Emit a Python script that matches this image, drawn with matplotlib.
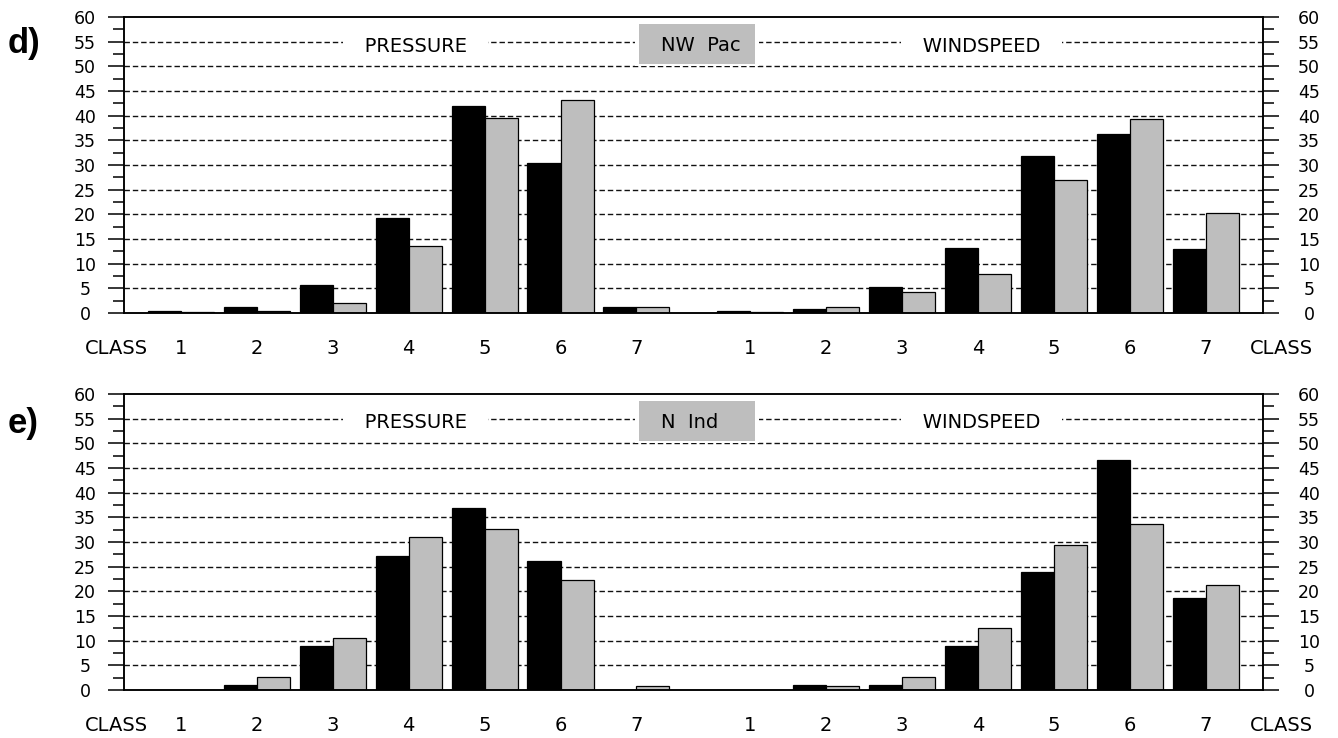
import matplotlib
matplotlib.use("Agg")
import matplotlib.pyplot as plt
import matplotlib.transforms as mtransforms
from matplotlib.patches import Rectangle
import numpy as np

plt.rcParams['font.family'] = ['DejaVu Sans']
plt.rcParams['lines.scale_dashes'] = False

# ---------------- data ----------------
classes = ['1', '2', '3', '4', '5', '6', '7']
y_ticks = list(range(0, 61, 5))

nwpac_pressure_black = [0.5, 1.3, 5.6, 19.3, 42.0, 30.5, 1.15]
nwpac_pressure_grey = [0.2, 0.5, 2.0, 13.6, 39.5, 43.1, 1.3]
nwpac_wind_black = [0.35, 0.9, 5.2, 13.2, 31.8, 36.2, 12.9]
nwpac_wind_grey = [0.15, 1.3, 4.3, 8.0, 27.0, 39.3, 20.2]

nind_pressure_black = [0.1, 1.1, 9.0, 27.2, 36.9, 26.1, 0.1]
nind_pressure_grey = [0.1, 2.7, 10.6, 31.1, 32.7, 22.2, 0.9]
nind_wind_black = [0.1, 1.1, 1.1, 9.0, 23.9, 46.6, 18.6]
nind_wind_grey = [0.1, 0.9, 2.7, 12.5, 29.3, 33.7, 21.3]

panels = [
    dict(tag='d)', region='NW Pac',
         pb=nwpac_pressure_black, pg=nwpac_pressure_grey,
         wb=nwpac_wind_black, wg=nwpac_wind_grey),
    dict(tag='e)', region='N Ind',
         pb=nind_pressure_black, pg=nind_pressure_grey,
         wb=nind_wind_black, wg=nind_wind_grey),
]

W, H = 1338, 738
fig = plt.figure(figsize=(W / 100, H / 100), dpi=100)

ax_left_px, ax_right_px = 124, 1262.7
ax_h_px = 296
tops_px = [17, 394]
tag_baseline_px = [53, 433]

GREY = '#bebebe'
bw = 0.435
p_centers = np.arange(7)
w_centers = np.arange(7) + 7.5

for panel, top_px, tag_px in zip(panels, tops_px, tag_baseline_px):
    bottom_px = top_px + ax_h_px
    ax = fig.add_axes([ax_left_px / W, 1 - bottom_px / H,
                       (ax_right_px - ax_left_px) / W, ax_h_px / H])
    ax.set_xlim(-0.75, 14.25)
    ax.set_ylim(0, 60)

    # bars
    ax.bar(p_centers - bw / 2, panel['pb'], width=bw, color='black',
           edgecolor='black', linewidth=0.9, zorder=2)
    ax.bar(p_centers + bw / 2, panel['pg'], width=bw, color=GREY,
           edgecolor='black', linewidth=0.9, zorder=2)
    ax.bar(w_centers - bw / 2, panel['wb'], width=bw, color='black',
           edgecolor='black', linewidth=0.9, zorder=2)
    ax.bar(w_centers + bw / 2, panel['wg'], width=bw, color=GREY,
           edgecolor='black', linewidth=0.9, zorder=2)

    # dashed grid
    for yv in y_ticks[1:-1]:
        ax.axhline(yv, color='#111111', lw=1.0, ls=(0, (3.9, 2.1)), zorder=0.5)

    for sp in ax.spines.values():
        sp.set_linewidth(1.1)

    # y axis left
    ax.set_yticks(y_ticks)
    ax.set_yticklabels([str(v) for v in y_ticks])
    ax.set_yticks(np.arange(2.5, 60, 5), minor=True)
    ax.tick_params(axis='y', which='major', direction='out', length=11.5,
                   width=1.1, labelsize=12.5, pad=16.5)
    ax.tick_params(axis='y', which='minor', direction='out', length=8,
                   width=1.1)
    for lbl in ax.get_yticklabels():
        lbl.set_horizontalalignment('center')

    # y axis right
    ax2 = ax.twinx()
    ax2.set_ylim(0, 60)
    ax2.set_yticks(y_ticks)
    ax2.set_yticklabels([str(v) for v in y_ticks])
    ax2.set_yticks(np.arange(2.5, 60, 5), minor=True)
    ax2.tick_params(axis='y', which='major', direction='out', length=11.5,
                    width=1.1, labelsize=12.5, pad=21.8)
    ax2.tick_params(axis='y', which='minor', direction='out', length=8,
                    width=1.1)
    for lbl in ax2.get_yticklabels():
        lbl.set_horizontalalignment('center')
    for sp in ax2.spines.values():
        sp.set_linewidth(1.1)

    # x tick labels
    ax.set_xticks(list(p_centers) + list(w_centers))
    ax.set_xticklabels(classes + classes)
    ax.tick_params(axis='x', length=0, labelsize=14, pad=19)

    trans = mtransforms.blended_transform_factory(ax.transData, ax.transAxes)
    ax.text(-0.435, -41 / ax_h_px, 'CLASS', transform=trans, ha='right',
            va='baseline', fontsize=14)
    ax.text(14.085, -41 / ax_h_px, 'CLASS', transform=trans, ha='left',
            va='baseline', fontsize=14, clip_on=False)

    # in-plot labels
    lab_y = (ax_h_px - 34.5) / ax_h_px
    ax.text(0.256, lab_y, '   PRESSURE   ', transform=ax.transAxes,
            ha='center', va='baseline', fontsize=14, zorder=3,
            bbox=dict(facecolor='white', edgecolor='none', pad=2))
    ax.text(0.753, lab_y, '   WINDSPEED   ', transform=ax.transAxes,
            ha='center', va='baseline', fontsize=14, zorder=3,
            bbox=dict(facecolor='white', edgecolor='none', pad=2))

    bx0 = (639 - ax_left_px) / (ax_right_px - ax_left_px)
    bw_ax = 116 / (ax_right_px - ax_left_px)
    by1 = 1 - 7 / ax_h_px
    by0 = 1 - 47 / ax_h_px
    padx = 4 / (ax_right_px - ax_left_px)
    ax.add_patch(Rectangle((bx0 - padx, by0 - 2 / ax_h_px),
                           bw_ax + 2 * padx, by1 - by0 + 4 / ax_h_px,
                           transform=ax.transAxes, facecolor='white',
                           edgecolor='none', zorder=3))
    ax.add_patch(Rectangle((bx0, by0), bw_ax, by1 - by0,
                           transform=ax.transAxes, facecolor=GREY,
                           edgecolor='none', zorder=3.5))
    ax.text((661 - ax_left_px) / (ax_right_px - ax_left_px),
            (ax_h_px - 34) / ax_h_px, panel['region'].replace(' ', '  '),
            transform=ax.transAxes, ha='left', va='baseline', fontsize=14,
            zorder=4)

    fig.text(8 / W, 1 - tag_px / H, panel['tag'], ha='left', va='baseline',
             fontsize=25, fontweight='bold', family='Liberation Sans')

fig.savefig('out.png', dpi=100)
